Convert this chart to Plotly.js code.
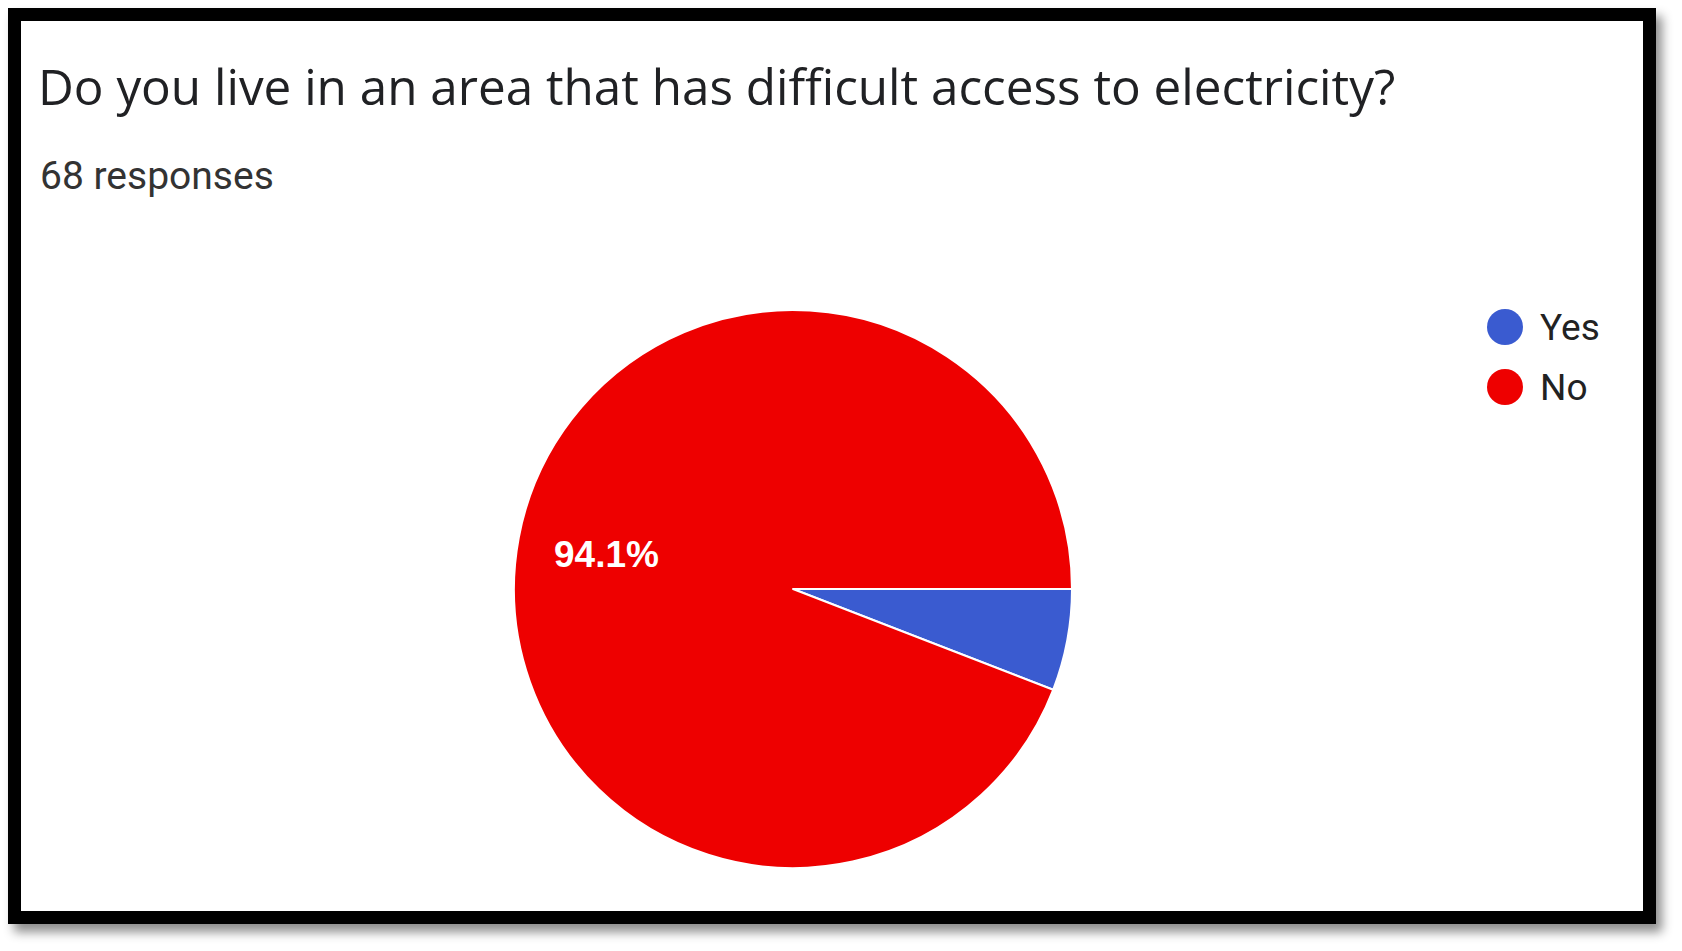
<!DOCTYPE html>
<html>
<head>
<meta charset="utf-8">
<script src="https://cdn.plot.ly/plotly-3.0.1.min.js"></script>
<style>
  html, body { margin: 0; padding: 0; background: #ffffff; }
  #wrap { position: relative; width: 1682px; height: 951px; overflow: hidden; }
  #chart { position: absolute; left: 0; top: 0; width: 1682px; height: 951px; }
  #frame {
    position: absolute; left: 8px; top: 8px;
    width: 1622px; height: 890px;
    border: 13px solid #000;
    box-shadow: 6px 8px 10px rgba(0,0,0,0.45);
    pointer-events: none;
  }
</style>
</head>
<body>
<div id="wrap">
  <div id="chart"></div>
  <div id="frame"></div>
</div>
<script>
// Survey answers
const answers = ['Yes', 'No'];
const counts = [4, 64];
const sliceColors = ['#3a5bd0', '#ee0000'];
const questionText = 'Do you live in an area that has difficult access to electricity?';

const W = 1682, H = 951;
const total = counts.reduce((a, b) => a + b, 0);

// pie placement in pixels
const cx = 793, cy = 589, R = 279;
const startDeg = 90;   // first slice starts at 3 o'clock, going clockwise

const pie = {
  type: 'pie',
  labels: answers,
  values: counts,
  sort: false,
  direction: 'clockwise',
  rotation: startDeg,
  marker: { colors: sliceColors, line: { color: '#ffffff', width: 2 } },
  textinfo: 'none',
  hoverinfo: 'label+percent',
  showlegend: false,
  domain: {
    x: [(cx - R) / W, (cx + R) / W],
    y: [1 - (cy + R) / H, 1 - (cy - R) / H]
  }
};

// percentage labels for slices that are large enough, placed on each slice's mid-angle
const sliceLabels = [];
let acc = 0;
counts.forEach((v, i) => {
  const frac = v / total;
  const midDeg = startDeg + (acc + frac / 2) * 360;   // clockwise from 12 o'clock
  acc += frac;
  if (frac < 0.1) return;
  const a = midDeg * Math.PI / 180;
  const px = cx + 0.68 * R * Math.sin(a);
  const py = cy - 0.68 * R * Math.cos(a);
  sliceLabels.push({
    xref: 'paper', yref: 'paper',
    x: px / W, y: 1 - py / H,
    xanchor: 'center', yanchor: 'middle',
    text: (frac * 100).toFixed(1) + '%', showarrow: false,
    font: { family: 'Liberation Sans, Arial, sans-serif', size: 37, color: '#ffffff', weight: 'bold' }
  });
});

// legend: filled circles with labels
const legendShapes = [];
const legendNotes = [];
const legX = 1505, legY0 = 327, legStep = 60, dotR = 18;
answers.forEach((name, i) => {
  const y = legY0 + i * legStep;
  legendShapes.push({
    type: 'circle', xref: 'paper', yref: 'paper',
    x0: (legX - dotR) / W, x1: (legX + dotR) / W,
    y0: 1 - (y + dotR) / H, y1: 1 - (y - dotR) / H,
    fillcolor: sliceColors[i], line: { width: 0 }
  });
  legendNotes.push({
    xref: 'paper', yref: 'paper',
    x: 1538 / W, y: 1 - y / H,
    xanchor: 'left', yanchor: 'middle',
    text: name, showarrow: false,
    font: { family: 'Roboto, sans-serif', size: 37, color: '#222222' }
  });
});

const layout = {
  width: W, height: H,
  margin: { l: 0, r: 0, t: 0, b: 0 },
  paper_bgcolor: '#ffffff',
  title: {
    text: questionText,
    xref: 'container', yref: 'container',
    x: 38 / W, xanchor: 'left',
    y: 1 - 88 / H, yanchor: 'middle',
    font: { family: 'Open Sans, sans-serif', size: 49.4, color: '#202124' }
  },
  shapes: legendShapes,
  annotations: [
    {
      xref: 'paper', yref: 'paper',
      x: 38 / W, y: 1 - 176 / H,
      xanchor: 'left', yanchor: 'middle',
      text: total + ' responses', showarrow: false,
      font: { family: 'Roboto, sans-serif', size: 39, color: '#333333' }
    }
  ].concat(legendNotes, sliceLabels)
};

Plotly.newPlot('chart', [pie], layout, { displayModeBar: false, staticPlot: true });
</script>
</body>
</html>
